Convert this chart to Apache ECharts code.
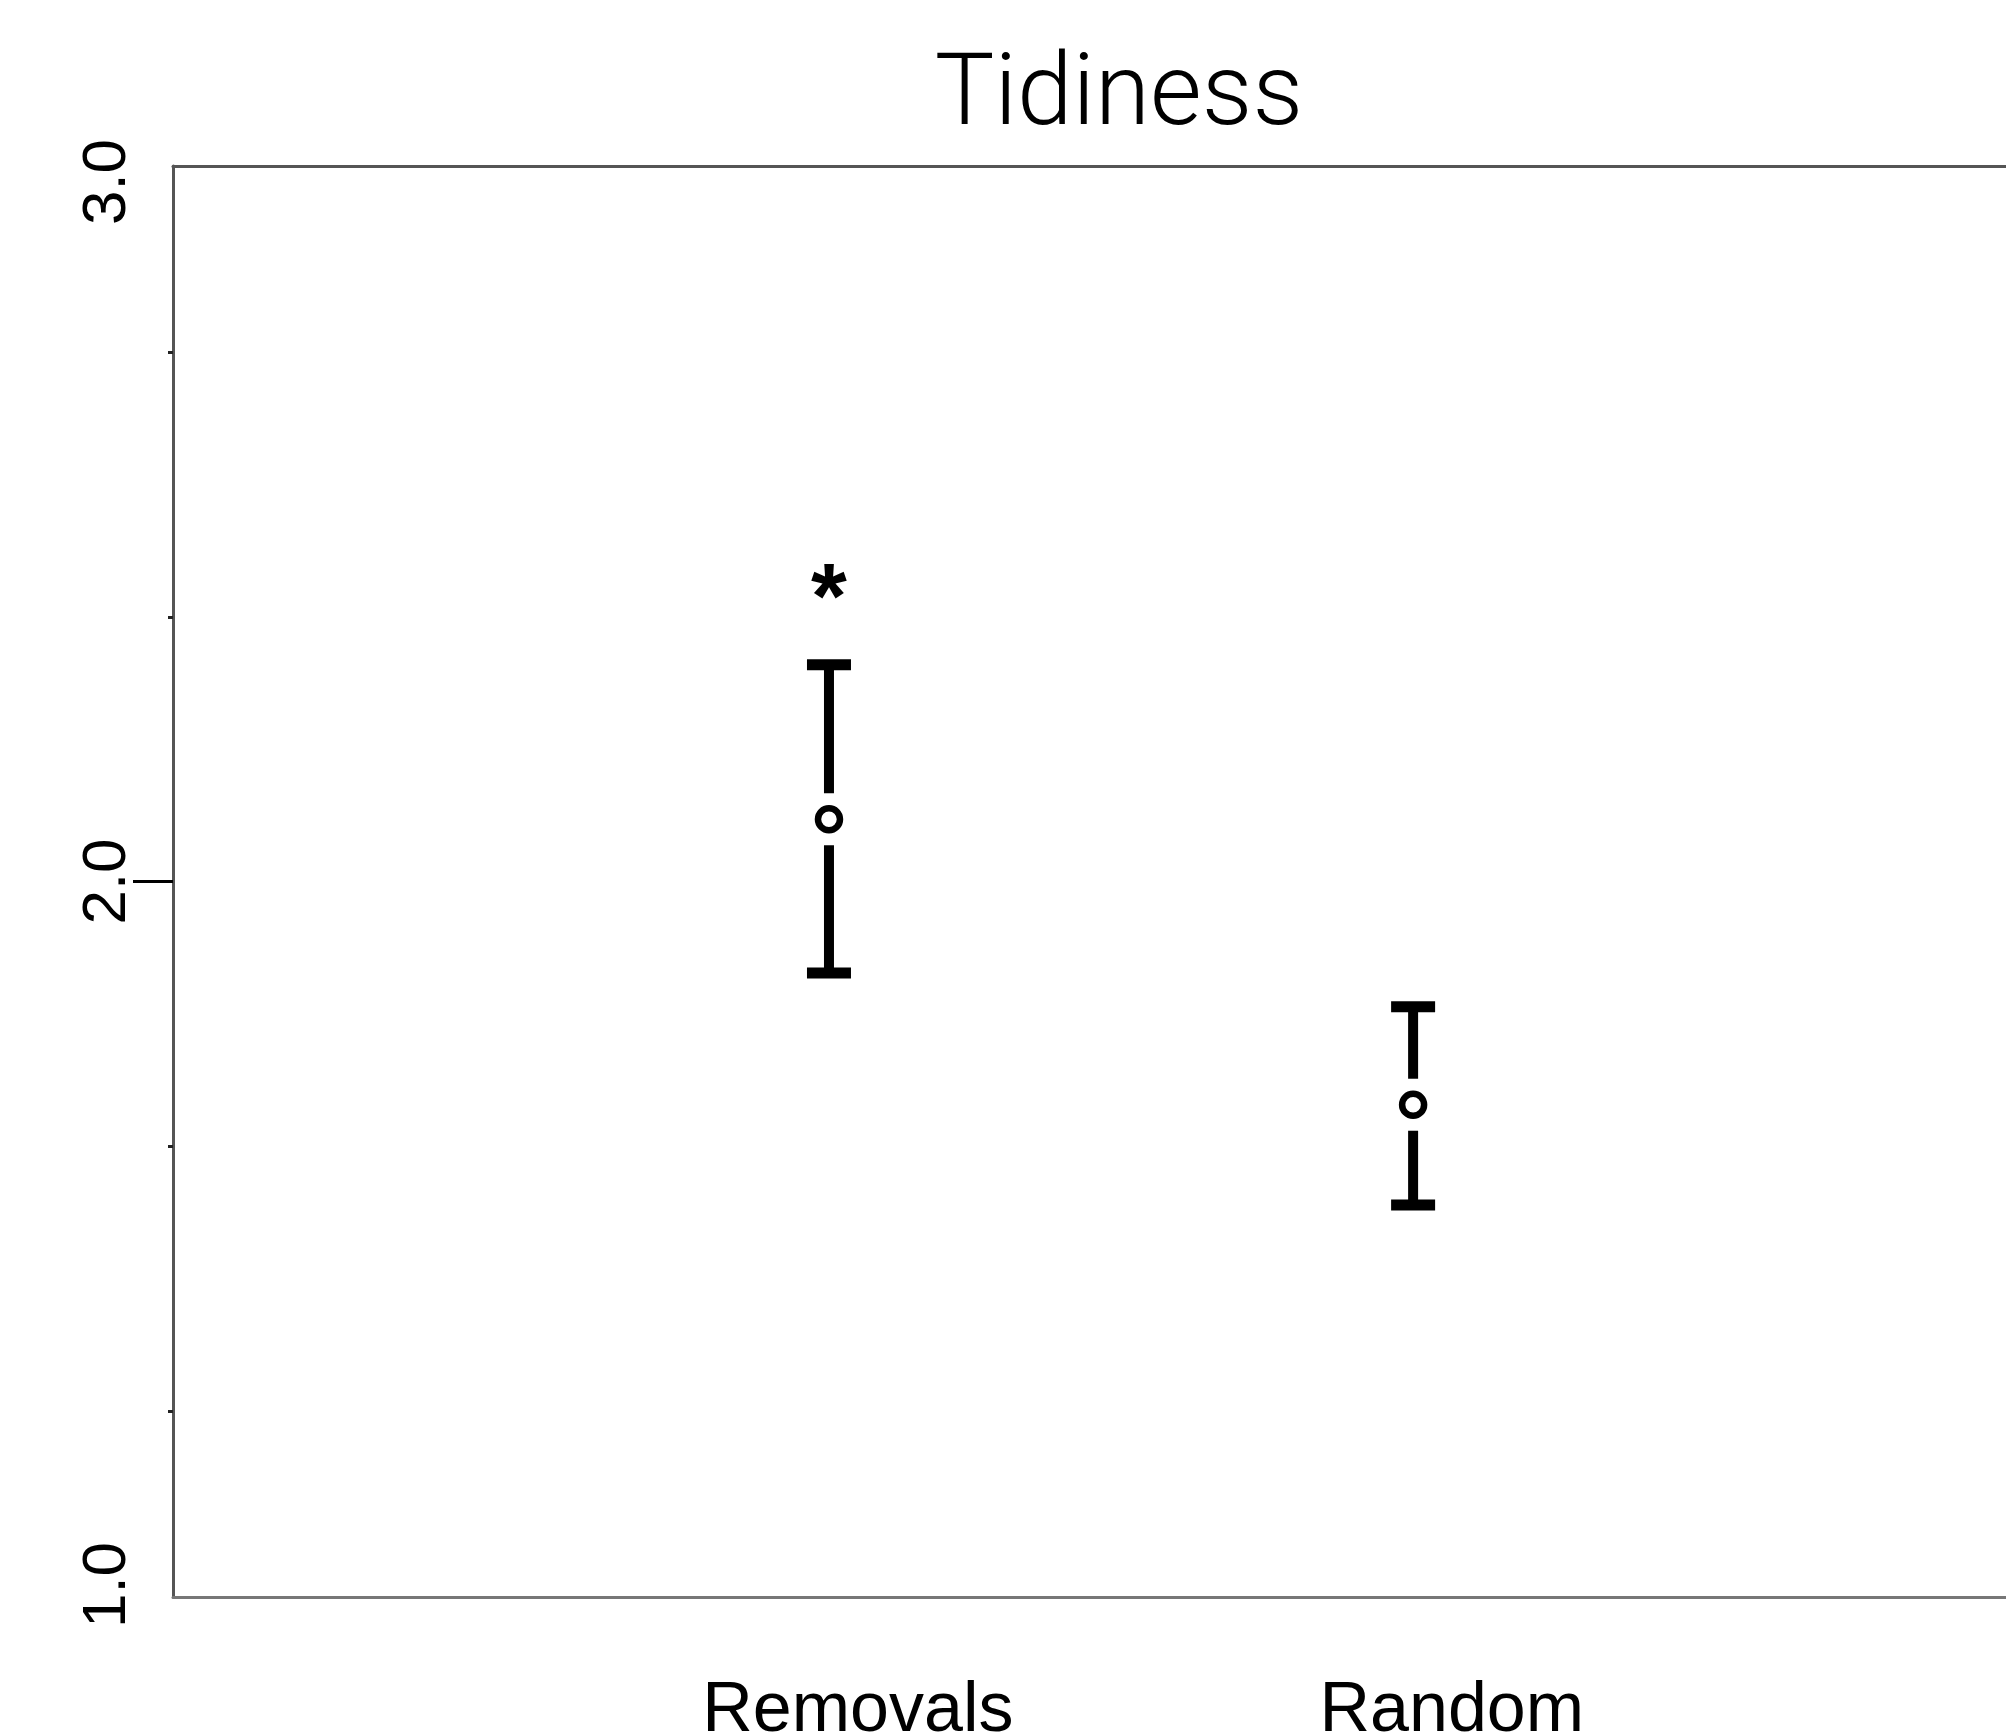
<!DOCTYPE html>
<html>
<head>
<meta charset="utf-8">
<script src="https://cdn.jsdelivr.net/npm/echarts@6/dist/echarts.min.js"></script>
<style>
html,body{margin:0;padding:0;background:#fff;}
#chart{width:2006px;height:1736px;}
</style>
</head>
<body>
<div id="chart"></div>
<script>
// ---- data ----
const categories = ['Removals', 'Random'];
const groupPos = [1, 2];
const means = [2.087, 1.688];
const lowerCI = [1.872, 1.548];
const upperCI = [2.303, 1.825];
const significance = ['*', ''];
const yLabelValues = [1, 2, 3];
const yMajorTicks = [2];
const yMinorTicks = [1.26, 1.63, 2.37, 2.74];
const titleText = 'Tidiness';

const seriesData = groupPos.map((p, i) => [p, means[i], lowerCI[i], upperCI[i]]);

const chart = echarts.init(document.getElementById('chart'), null, {renderer: 'canvas'});

const yLabelFont = {fontFamily: '"Liberation Sans", Arial, sans-serif', fontSize: 62, color: '#000'};

const option = {
  backgroundColor: '#ffffff',
  animation: false,
  title: {
    text: titleText,
    left: 1114,
    top: 44,
    textAlign: 'center',
    textStyle: {
      fontFamily: 'Roboto, "Liberation Sans", sans-serif',
      fontWeight: 300,
      fontSize: 100,
      color: '#000'
    }
  },
  grid: {left: 173, top: 166, right: 0, bottom: 139, containLabel: false, outerBoundsMode: 'none'},
  xAxis: [
    { // data axis (hidden)
      type: 'value', min: -0.123, max: 3.015, show: false
    },
    { // label axis at bottom
      type: 'value', min: -0.153, max: 2.933, position: 'bottom',
      axisLine: {show: true, onZero: false, lineStyle: {color: '#777', width: 3}},
      axisTick: {show: false},
      splitLine: {show: false},
      axisLabel: {
        customValues: groupPos,
        formatter: v => categories[Math.round(v) - 1] || '',
        fontFamily: '"Liberation Sans", Arial, sans-serif',
        fontSize: 70,
        color: '#000',
        margin: 80
      }
    },
    { // top border line
      type: 'value', min: 0, max: 1, position: 'top',
      axisLine: {show: true, onZero: false, lineStyle: {color: '#555', width: 3}},
      axisTick: {show: false}, axisLabel: {show: false}, splitLine: {show: false}
    }
  ],
  yAxis: [
    {
      type: 'value', min: 1, max: 3, position: 'left',
      axisLine: {show: true, onZero: false, lineStyle: {color: '#555', width: 3}},
      axisTick: {show: true, customValues: yMajorTicks, length: 40, lineStyle: {color: '#000', width: 3}},
      splitLine: {show: false},
      axisLabel: {
        customValues: yLabelValues,
        rotate: 90,
        formatter: v => {
          const t = v.toFixed(1);
          if (v === yLabelValues[yLabelValues.length - 1]) return '{hi|' + t + '}';
          if (v === yLabelValues[0]) return '{lo|' + t + '}';
          return '{mid|' + t + '}';
        },
        rich: {
          hi: Object.assign({padding: [0, 32, 0, 0]}, yLabelFont),
          lo: Object.assign({padding: [0, 0, 0, 24]}, yLabelFont),
          mid: Object.assign({}, yLabelFont)
        },
        fontFamily: '"Liberation Sans", Arial, sans-serif',
        fontSize: 62,
        color: '#000',
        margin: 34
      }
    },
    {
      type: 'value', min: 1, max: 3, position: 'left',
      axisLine: {show: false, onZero: false},
      axisTick: {show: true, customValues: yMinorTicks, length: 5, lineStyle: {color: '#222', width: 3}},
      axisLabel: {show: false},
      splitLine: {show: false}
    }
  ],
  series: [{
    type: 'custom',
    xAxisIndex: 0,
    yAxisIndex: 0,
    clip: false,
    encode: {x: 0, y: [1, 2, 3]},
    data: seriesData,
    renderItem: function (params, api) {
      const x = api.value(0);
      const pm = api.coord([x, api.value(1)]);
      const pl = api.coord([x, api.value(2)]);
      const ph = api.coord([x, api.value(3)]);
      const mark = significance[params.dataIndex];
      const cx = pm[0];
      const capHalf = 22;
      const gap = 26;
      const lineStyle = {stroke: '#000', lineWidth: 10};
      const capStyle = {stroke: '#000', lineWidth: 11};
      const children = [
        {type: 'line', shape: {x1: cx - capHalf, y1: ph[1], x2: cx + capHalf, y2: ph[1]}, style: capStyle},
        {type: 'line', shape: {x1: cx, y1: ph[1], x2: cx, y2: pm[1] - gap}, style: lineStyle},
        {type: 'line', shape: {x1: cx, y1: pm[1] + gap, x2: cx, y2: pl[1]}, style: lineStyle},
        {type: 'line', shape: {x1: cx - capHalf, y1: pl[1], x2: cx + capHalf, y2: pl[1]}, style: capStyle},
        {type: 'circle', shape: {cx: cx, cy: pm[1], r: 11}, style: {fill: '#fff', stroke: '#000', lineWidth: 6.5}}
      ];
      if (mark) {
        children.push({
          type: 'text',
          style: {
            text: mark, x: cx, y: ph[1] - 62,
            align: 'center', verticalAlign: 'middle',
            font: 'bold 92px "Liberation Sans", Arial, sans-serif',
            fill: '#000'
          }
        });
      }
      return {type: 'group', children: children};
    }
  }]
};

chart.setOption(option);
</script>
</body>
</html>
